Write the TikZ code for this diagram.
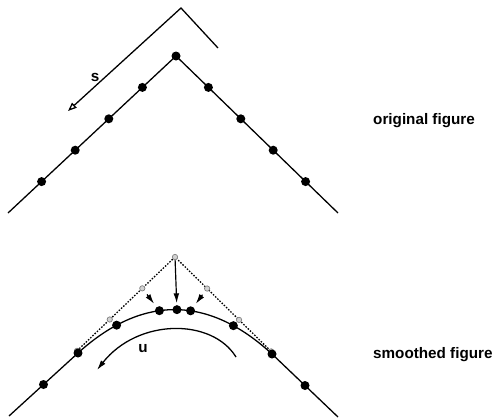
\documentclass[tikz,border=0pt]{standalone}
\usepackage{fontspec}
\setmainfont{Liberation Sans}
\usetikzlibrary{arrows.meta, calc}

\begin{document}
\begin{tikzpicture}[
  x=0.03cm, y=-0.03cm,
  dot/.style={circle, fill, inner sep=0pt, minimum size=2.7mm},
  ghost/.style={circle, draw=gray, fill=gray!35, inner sep=0pt, minimum size=1.6mm, line width=0.6pt},
  curve/.style={line width=1.1pt},
  arrow/.style={-{Latex[length=3mm, width=1.7mm]}, line width=1pt},
  tag/.style={font=\bfseries\fontsize{13}{15}\selectfont, inner sep=0pt}
]
\useasboundingbox (0,0) rectangle (494,418);

% original figure
\coordinate (topA) at (176,56);
\coordinate (leftA) at (8,213);
\coordinate (rightA) at (338,213);
\draw[curve] (leftA) -- (topA) -- (rightA);
\node[dot] (pA0) at (topA) {};
\foreach \f [count=\i] in {0.2,0.4,0.6,0.8} {
  \node[dot] (pL\i) at ($(topA)!\f!(leftA)$) {};
  \node[dot] (pR\i) at ($(topA)!\f!(rightA)$) {};
}
\coordinate (sTop) at (181,8);
\coordinate (sEnd) at (218,48);
\coordinate (sTip) at (68,111);
\draw[curve, -{Triangle[open, length=2.6mm, width=2mm]}] (sEnd) -- (sTop) -- (sTip);
\node[tag] (sLab) at (95,77) {s};
\node[tag, anchor=west] (orig) at (373,121) {original figure};

% smoothed figure
\coordinate (topB) at (175,257);
\coordinate (leftB) at (9,416);
\coordinate (rightB) at (338,417);
\coordinate (joinL) at (78,353);
\coordinate (joinR) at (272,354);
\draw[dash pattern=on 1.3pt off 1.3pt, line width=1.1pt] ($(topB)!0.59!(leftB)$) -- (topB) -- ($(topB)!0.59!(rightB)$);
\node[ghost] (gT) at (topB) {};
\foreach \f [count=\i] in {0.197,0.393,0.59} {
  \node[ghost] (gL\i) at ($(topB)!\f!(leftB)$) {};
  \node[ghost] (gR\i) at ($(topB)!\f!(rightB)$) {};
}
\draw[curve] (leftB) -- (joinL) .. controls (142,295) and (208,295) ..
  node[dot, pos=0.2] (cB1) {}
  node[dot, pos=0.42] (cB2) {}
  node[dot, pos=0.51] (cB3) {}
  node[dot, pos=0.58] (cB4) {}
  node[dot, pos=0.8] (cB5) {} (joinR) -- (rightB);
\node[dot] (jL) at (joinL) {};
\node[dot] (jR) at (joinR) {};
\node[dot] (mL) at ($(leftB)!0.5!(joinL)$) {};
\node[dot] (mR) at ($(joinR)!0.5!(rightB)$) {};
\draw[arrow, shorten >=1pt] (gT) -- (cB3);
\draw[arrow, shorten <=4pt, shorten >=3pt] (gL1) -- (cB2);
\draw[arrow, shorten <=4pt, shorten >=3pt] (gR1) -- (cB4);
\coordinate (uStart) at (236,357);
\coordinate (uTip) at (97,370);
\draw[arrow, line width=1.1pt] (uStart) .. controls (212,318) and (138,318) .. (uTip);
\node[tag] (uLab) at (143,349) {u};
\node[tag, anchor=west] (smooth) at (373,355) {smoothed figure};
\end{tikzpicture}
\end{document}
